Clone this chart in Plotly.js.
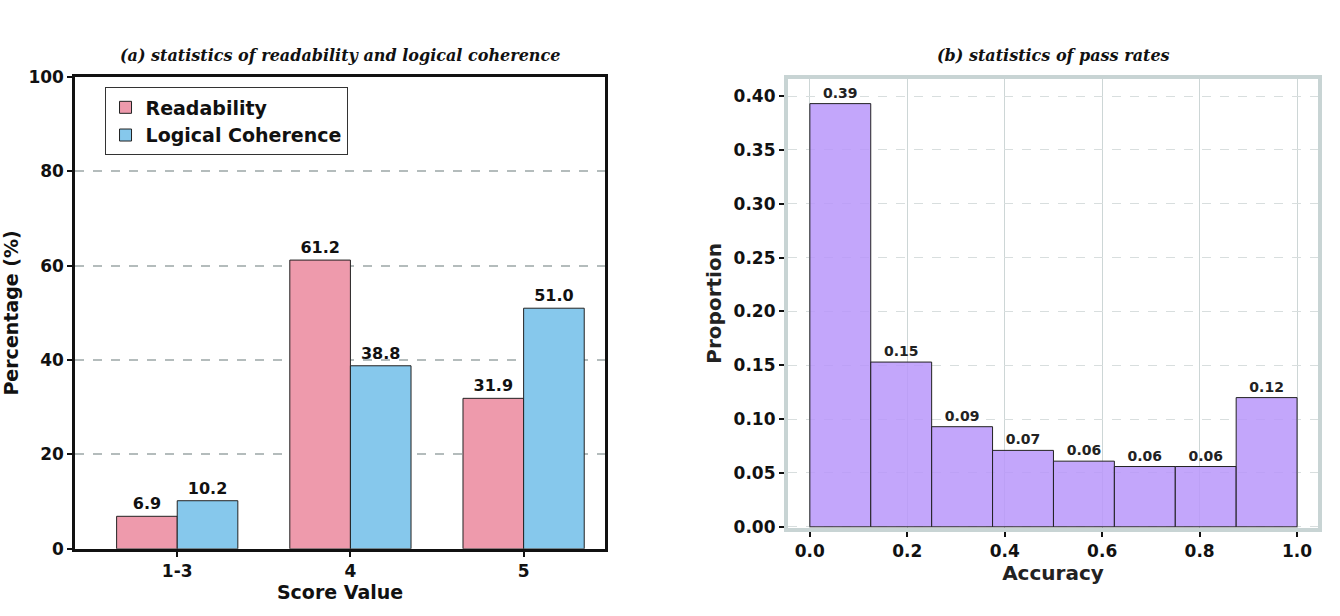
<!DOCTYPE html>
<html>
<head>
<script src="https://cdn.plot.ly/plotly-3.0.1.min.js"></script>
<style>body{margin:0}#chart{width:1340px;height:616px}</style>
</head>
<body>
<div id="chart"></div>
<script>
// left panel
var scoreCats = ['1-3', '4', '5']
var readability = [6.9, 61.2, 31.9]
var coherence = [10.2, 38.8, 51.0]

// right panel (histogram bins)
var binCenters = [0.0625, 0.1875, 0.3125, 0.4375, 0.5625, 0.6875, 0.8125, 0.9375]
var proportions = [0.393, 0.153, 0.093, 0.071, 0.061, 0.056, 0.056, 0.120]
var propLabels = ['0.39', '0.15', '0.09', '0.07', '0.06', '0.06', '0.06', '0.12']

var bold = {family: 'DejaVu Sans', weight: 'bold', color: '#111', size: 17}

var data = [
  {
    x: [0, 1, 2], y: readability, type: 'bar', name: 'Readability',
    width: 0.35, offset: -0.35,
    marker: {color: '#ee9aac', line: {color: '#222', width: 1}},
    text: readability.map(v => v.toFixed(1)), textposition: 'outside',
    textfont: {family: 'DejaVu Sans', weight: 'bold', size: 16, color: '#111'},
    cliponaxis: false, xaxis: 'x', yaxis: 'y'
  },
  {
    x: [0, 1, 2], y: coherence, type: 'bar', name: 'Logical Coherence',
    width: 0.35, offset: 0,
    marker: {color: '#86c8ec', line: {color: '#222', width: 1}},
    text: coherence.map(v => v.toFixed(1)), textposition: 'outside',
    textfont: {family: 'DejaVu Sans', weight: 'bold', size: 16, color: '#111'},
    cliponaxis: false, xaxis: 'x', yaxis: 'y'
  },
  {
    x: binCenters, y: proportions, type: 'bar', width: 0.125, showlegend: false,
    marker: {color: 'rgba(185,150,250,0.85)', line: {color: '#222', width: 1}},
    text: propLabels, textposition: 'outside',
    textfont: {family: 'DejaVu Sans', weight: 'bold', size: 14, color: '#222'},
    cliponaxis: false, xaxis: 'x2', yaxis: 'y2'
  }
]

var layout = {
  width: 1340, height: 616,
  margin: {l: 0, r: 0, t: 0, b: 0},
  paper_bgcolor: 'white', plot_bgcolor: 'white',
  barmode: 'overlay',
  showlegend: true,
  legend: {
    x: 0.078, y: 0.858, xanchor: 'left', yanchor: 'top',
    bordercolor: '#333', borderwidth: 1, bgcolor: 'white',
    font: {family: 'DejaVu Sans', weight: 'bold', size: 19, color: '#111'}
  },
  xaxis: {
    domain: [0.056, 0.4515], range: [-0.59, 2.47],
    tickvals: [0, 1, 2], ticktext: scoreCats,
    ticks: 'outside', ticklen: 5, tickwidth: 1.5, tickcolor: '#111',
    showline: true, mirror: true, linecolor: '#111', linewidth: 2.5,
    showgrid: false, zeroline: false, tickfont: bold,
    title: {text: 'Score Value', font: {family: 'DejaVu Sans', weight: 'bold', size: 19, color: '#111'}, standoff: 4}
  },
  yaxis: {
    domain: [0.109, 0.875], range: [0, 100],
    tickvals: [0, 20, 40, 60, 80, 100],
    ticks: 'outside', ticklen: 5, tickwidth: 1.5, tickcolor: '#111',
    showline: true, mirror: true, linecolor: '#111', linewidth: 2.5,
    showgrid: true, gridcolor: '#b4bcbc', griddash: 'dash', gridwidth: 2,
    zeroline: false, tickfont: bold,
    title: {text: 'Percentage (%)', font: {family: 'DejaVu Sans', weight: 'bold', size: 19, color: '#111'}, standoff: 10}
  },
  xaxis2: {
    domain: [0.588, 0.9836], range: [-0.045, 1.043], anchor: 'y2',
    tickvals: [0, 0.2, 0.4, 0.6, 0.8, 1.0], ticktext: ['0.0', '0.2', '0.4', '0.6', '0.8', '1.0'],
    ticks: 'outside', ticklen: 5, tickwidth: 1.5, tickcolor: '#111',
    showline: true, mirror: true, linecolor: '#c8d4d4', linewidth: 4,
    showgrid: true, gridcolor: '#cdd6d6', gridwidth: 1,
    zeroline: false, tickfont: bold,
    title: {text: 'Accuracy', font: {family: 'DejaVu Sans', weight: 'bold', size: 20, color: '#222'}, standoff: 6}
  },
  yaxis2: {
    domain: [0.143, 0.872], range: [-0.001, 0.416], anchor: 'x2',
    tickvals: [0, 0.05, 0.1, 0.15, 0.2, 0.25, 0.3, 0.35, 0.4],
    ticktext: ['0.00', '0.05', '0.10', '0.15', '0.20', '0.25', '0.30', '0.35', '0.40'],
    ticks: 'outside', ticklen: 5, tickwidth: 1.5, tickcolor: '#111',
    showline: true, mirror: true, linecolor: '#c8d4d4', linewidth: 4,
    showgrid: true, gridcolor: '#d8dede', griddash: 'dash', gridwidth: 1.2,
    zeroline: false, tickfont: bold,
    title: {text: 'Proportion', font: {family: 'DejaVu Sans', weight: 'bold', size: 20, color: '#222'}, standoff: 8}
  },
  annotations: [
    {
      text: '(a) statistics of readability and logical coherence',
      xref: 'paper', yref: 'paper', x: 0.254, y: 1 - 44 / 616, xanchor: 'center', showarrow: false,
      font: {family: 'DejaVu Serif', style: 'italic', weight: 'bold', size: 16, color: '#111'}
    },
    {
      text: '(b) statistics of pass rates',
      xref: 'paper', yref: 'paper', x: 0.786, y: 1 - 44 / 616, xanchor: 'center', showarrow: false,
      font: {family: 'DejaVu Serif', style: 'italic', weight: 'bold', size: 16, color: '#111'}
    }
  ]
}

Plotly.newPlot('chart', data, layout, {displayModeBar: false})
</script>
</body>
</html>
